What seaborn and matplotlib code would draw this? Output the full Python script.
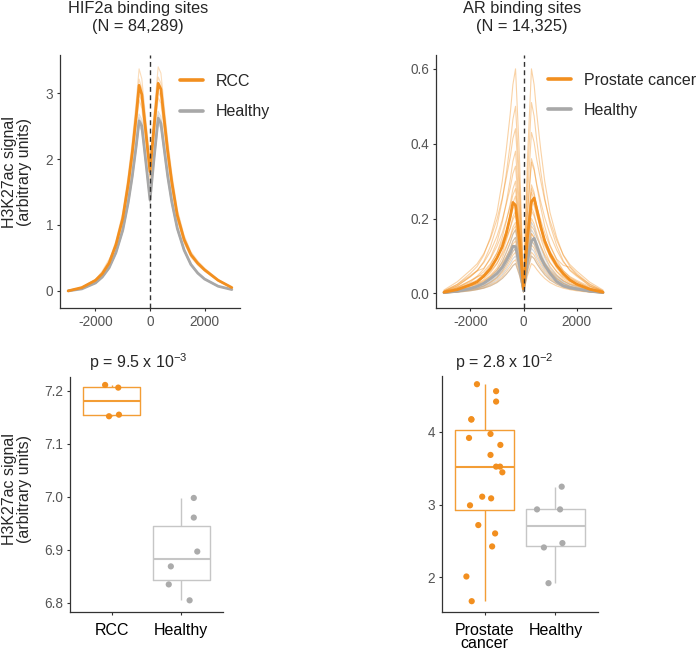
import numpy as np
import pandas as pd
import matplotlib
matplotlib.use("Agg")
import matplotlib.pyplot as plt
import seaborn as sns

# ---- data ----
# distance from binding-site centre (bp), shared by every profile
pos = [-3000, -2500, -2000, -1750, -1500, -1250, -1000, -800, -650, -500, -400, -300, -150, 0,
       150, 300, 400, 500, 650, 800, 1000, 1250, 1500, 1750, 2000, 2500, 3000]

# HIF2a sites: mean profiles
rcc_mean = [0.00, 0.05, 0.16, 0.26, 0.42, 0.70, 1.10, 1.62, 2.10, 2.68, 3.12, 2.98, 2.40, 1.81,
            2.50, 3.15, 3.06, 2.68, 2.12, 1.65, 1.15, 0.78, 0.55, 0.42, 0.32, 0.16, 0.05]
hif_healthy_mean = [0.00, 0.03, 0.12, 0.21, 0.35, 0.58, 0.92, 1.34, 1.74, 2.22, 2.58, 2.50, 1.95, 1.38,
                    2.02, 2.62, 2.54, 2.22, 1.74, 1.35, 0.95, 0.62, 0.40, 0.27, 0.18, 0.07, 0.02]

# HIF2a sites: single samples
rcc_samples = [
    [0.00, 0.054, 0.173, 0.28, 0.454, 0.756, 1.188, 1.75, 2.268, 2.894, 3.37, 3.218, 2.592, 1.95,
     2.70, 3.40, 3.305, 2.894, 2.29, 1.782, 1.242, 0.842, 0.594, 0.454, 0.346, 0.173, 0.054],
    [0.00, 0.052, 0.165, 0.268, 0.433, 0.721, 1.133, 1.669, 2.163, 2.76, 3.214, 3.069, 2.472, 1.864,
     2.575, 3.245, 3.152, 2.76, 2.184, 1.70, 1.185, 0.803, 0.567, 0.433, 0.33, 0.165, 0.052],
    [0.00, 0.048, 0.154, 0.25, 0.403, 0.672, 1.056, 1.555, 2.016, 2.573, 2.995, 2.861, 2.304, 1.738,
     2.40, 3.024, 2.938, 2.573, 2.035, 1.584, 1.104, 0.749, 0.528, 0.403, 0.307, 0.154, 0.048],
    [0.00, 0.05, 0.17, 0.30, 0.48, 0.68, 1.023, 1.507, 1.953, 2.492, 2.902, 2.771, 2.232, 1.683,
     2.325, 2.93, 2.846, 2.492, 1.972, 1.535, 1.07, 0.725, 0.512, 0.39, 0.298, 0.149, 0.047],
]
hif_healthy_samples = [
    [0.00, 0.031, 0.125, 0.218, 0.364, 0.603, 0.957, 1.394, 1.81, 2.309, 2.683, 2.60, 2.028, 1.435,
     2.101, 2.725, 2.642, 2.309, 1.81, 1.404, 0.988, 0.645, 0.416, 0.281, 0.187, 0.073, 0.021],
    [0.00, 0.031, 0.122, 0.214, 0.357, 0.592, 0.938, 1.367, 1.775, 2.264, 2.632, 2.55, 1.989, 1.408,
     2.06, 2.672, 2.591, 2.264, 1.775, 1.377, 0.969, 0.632, 0.408, 0.275, 0.184, 0.071, 0.02],
    [0.00, 0.03, 0.12, 0.21, 0.35, 0.58, 0.92, 1.34, 1.74, 2.22, 2.58, 2.50, 1.95, 1.38,
     2.02, 2.62, 2.54, 2.22, 1.74, 1.35, 0.95, 0.62, 0.40, 0.27, 0.18, 0.07, 0.02],
    [0.00, 0.03, 0.119, 0.208, 0.347, 0.574, 0.911, 1.327, 1.723, 2.198, 2.554, 2.475, 1.931, 1.366,
     2.0, 2.594, 2.515, 2.198, 1.723, 1.337, 0.941, 0.614, 0.396, 0.267, 0.178, 0.069, 0.02],
    [0.00, 0.029, 0.118, 0.206, 0.343, 0.568, 0.902, 1.313, 1.705, 2.176, 2.528, 2.45, 1.911, 1.352,
     1.98, 2.568, 2.489, 2.176, 1.705, 1.323, 0.931, 0.608, 0.392, 0.265, 0.176, 0.069, 0.02],
    [0.00, 0.029, 0.116, 0.204, 0.34, 0.563, 0.892, 1.30, 1.688, 2.153, 2.503, 2.425, 1.892, 1.339,
     1.959, 2.541, 2.464, 2.153, 1.688, 1.31, 0.922, 0.601, 0.388, 0.262, 0.175, 0.068, 0.019],
]

# AR sites: mean profiles
pca_mean = [0.003, 0.010, 0.023, 0.031, 0.046, 0.066, 0.095, 0.125, 0.160, 0.205, 0.243, 0.235, 0.14, 0.012,
            0.15, 0.245, 0.255, 0.225, 0.178, 0.14, 0.106, 0.075, 0.053, 0.036, 0.025, 0.011, 0.003]
ar_healthy_mean = [0.002, 0.006, 0.013, 0.019, 0.027, 0.039, 0.053, 0.07, 0.088, 0.108, 0.126, 0.125, 0.075, 0.008,
                   0.088, 0.14, 0.147, 0.128, 0.096, 0.075, 0.054, 0.032, 0.02, 0.015, 0.012, 0.006, 0.002]

# AR sites: single samples
pca_samples = [
    [0.006, 0.024, 0.054, 0.072, 0.102, 0.15, 0.216, 0.30, 0.384, 0.48, 0.558, 0.60, 0.36, 0.024,
     0.36, 0.60, 0.558, 0.48, 0.384, 0.30, 0.216, 0.15, 0.102, 0.072, 0.054, 0.024, 0.006],
    [0.005, 0.02, 0.045, 0.06, 0.085, 0.125, 0.18, 0.25, 0.32, 0.40, 0.465, 0.50, 0.30, 0.02,
     0.306, 0.51, 0.474, 0.408, 0.326, 0.255, 0.184, 0.128, 0.087, 0.061, 0.046, 0.02, 0.005],
    [0.009, 0.031, 0.062, 0.079, 0.106, 0.145, 0.198, 0.255, 0.308, 0.365, 0.414, 0.44, 0.264, 0.018,
     0.258, 0.43, 0.404, 0.357, 0.301, 0.249, 0.194, 0.142, 0.103, 0.077, 0.06, 0.03, 0.009],
    [0.004, 0.015, 0.034, 0.046, 0.065, 0.095, 0.137, 0.19, 0.243, 0.304, 0.353, 0.38, 0.228, 0.015,
     0.216, 0.36, 0.335, 0.288, 0.23, 0.18, 0.13, 0.09, 0.061, 0.043, 0.032, 0.014, 0.004],
    [0.007, 0.024, 0.048, 0.061, 0.082, 0.112, 0.153, 0.197, 0.238, 0.282, 0.32, 0.34, 0.204, 0.014,
     0.21, 0.35, 0.329, 0.291, 0.245, 0.203, 0.158, 0.116, 0.084, 0.063, 0.049, 0.025, 0.007],
    [0.003, 0.012, 0.027, 0.036, 0.051, 0.075, 0.108, 0.15, 0.192, 0.24, 0.279, 0.30, 0.18, 0.012,
     0.174, 0.29, 0.27, 0.232, 0.186, 0.145, 0.104, 0.073, 0.049, 0.035, 0.026, 0.012, 0.003],
    [0.006, 0.02, 0.045, 0.06, 0.067, 0.092, 0.126, 0.162, 0.196, 0.232, 0.263, 0.28, 0.168, 0.011,
     0.168, 0.28, 0.263, 0.232, 0.196, 0.162, 0.126, 0.092, 0.075, 0.07, 0.05, 0.02, 0.006],
    [0.003, 0.01, 0.023, 0.031, 0.044, 0.065, 0.094, 0.13, 0.166, 0.208, 0.242, 0.26, 0.156, 0.01,
     0.162, 0.27, 0.251, 0.216, 0.173, 0.135, 0.097, 0.068, 0.046, 0.032, 0.024, 0.011, 0.003],
    [0.005, 0.017, 0.034, 0.043, 0.058, 0.079, 0.108, 0.139, 0.168, 0.199, 0.226, 0.24, 0.144, 0.01,
     0.15, 0.25, 0.235, 0.208, 0.175, 0.145, 0.113, 0.083, 0.06, 0.045, 0.035, 0.018, 0.005],
    [0.002, 0.009, 0.02, 0.026, 0.037, 0.055, 0.079, 0.11, 0.141, 0.176, 0.205, 0.22, 0.132, 0.009,
     0.138, 0.23, 0.214, 0.184, 0.147, 0.115, 0.083, 0.058, 0.039, 0.028, 0.021, 0.009, 0.002],
    [0.004, 0.015, 0.03, 0.045, 0.05, 0.069, 0.095, 0.122, 0.147, 0.174, 0.197, 0.21, 0.126, 0.008,
     0.132, 0.22, 0.207, 0.183, 0.154, 0.128, 0.099, 0.073, 0.053, 0.04, 0.031, 0.015, 0.004],
    [0.002, 0.008, 0.017, 0.023, 0.032, 0.048, 0.068, 0.095, 0.122, 0.152, 0.177, 0.19, 0.114, 0.008,
     0.12, 0.20, 0.186, 0.16, 0.128, 0.10, 0.072, 0.05, 0.034, 0.024, 0.018, 0.008, 0.002],
    [0.004, 0.013, 0.025, 0.032, 0.043, 0.059, 0.081, 0.104, 0.126, 0.149, 0.169, 0.18, 0.108, 0.007,
     0.108, 0.18, 0.169, 0.149, 0.126, 0.104, 0.081, 0.059, 0.043, 0.032, 0.025, 0.013, 0.004],
    [0.002, 0.007, 0.015, 0.02, 0.029, 0.043, 0.061, 0.085, 0.109, 0.136, 0.158, 0.17, 0.102, 0.007,
     0.096, 0.16, 0.149, 0.128, 0.102, 0.08, 0.058, 0.04, 0.027, 0.019, 0.014, 0.006, 0.002],
    [0.002, 0.006, 0.014, 0.018, 0.026, 0.038, 0.054, 0.075, 0.096, 0.12, 0.14, 0.15, 0.09, 0.006,
     0.096, 0.16, 0.149, 0.128, 0.102, 0.08, 0.058, 0.04, 0.027, 0.019, 0.014, 0.006, 0.002],
    [0.003, 0.01, 0.02, 0.025, 0.034, 0.046, 0.063, 0.081, 0.098, 0.116, 0.132, 0.14, 0.084, 0.006,
     0.084, 0.14, 0.132, 0.116, 0.098, 0.081, 0.063, 0.046, 0.034, 0.025, 0.02, 0.01, 0.003],
    [0.001, 0.005, 0.011, 0.014, 0.02, 0.03, 0.043, 0.06, 0.077, 0.096, 0.112, 0.12, 0.072, 0.005,
     0.078, 0.13, 0.121, 0.104, 0.083, 0.065, 0.047, 0.033, 0.022, 0.016, 0.012, 0.005, 0.001],
    [0.001, 0.004, 0.01, 0.013, 0.019, 0.028, 0.04, 0.055, 0.07, 0.088, 0.102, 0.11, 0.066, 0.004,
     0.066, 0.11, 0.102, 0.088, 0.07, 0.055, 0.04, 0.028, 0.019, 0.013, 0.01, 0.004, 0.001],
    [0.001, 0.004, 0.008, 0.011, 0.015, 0.023, 0.032, 0.045, 0.058, 0.072, 0.084, 0.09, 0.054, 0.004,
     0.06, 0.10, 0.093, 0.08, 0.064, 0.05, 0.036, 0.025, 0.017, 0.012, 0.009, 0.004, 0.001],
    [0.001, 0.003, 0.007, 0.01, 0.014, 0.02, 0.029, 0.04, 0.051, 0.064, 0.074, 0.08, 0.048, 0.003,
     0.048, 0.08, 0.074, 0.064, 0.051, 0.04, 0.029, 0.02, 0.014, 0.01, 0.007, 0.003, 0.001],
]
ar_healthy_samples = [
    [0.002, 0.007, 0.015, 0.02, 0.029, 0.043, 0.061, 0.085, 0.109, 0.136, 0.158, 0.17, 0.102, 0.007,
     0.114, 0.19, 0.177, 0.152, 0.122, 0.095, 0.068, 0.048, 0.032, 0.023, 0.017, 0.008, 0.002],
    [0.002, 0.006, 0.014, 0.018, 0.026, 0.038, 0.054, 0.075, 0.096, 0.12, 0.14, 0.15, 0.09, 0.006,
     0.102, 0.17, 0.158, 0.136, 0.109, 0.085, 0.061, 0.043, 0.029, 0.02, 0.015, 0.007, 0.002],
    [0.001, 0.005, 0.012, 0.016, 0.022, 0.033, 0.047, 0.065, 0.083, 0.104, 0.121, 0.13, 0.078, 0.005,
     0.09, 0.15, 0.14, 0.12, 0.096, 0.075, 0.054, 0.038, 0.026, 0.018, 0.014, 0.006, 0.002],
    [0.001, 0.005, 0.011, 0.014, 0.02, 0.03, 0.043, 0.06, 0.077, 0.096, 0.112, 0.12, 0.072, 0.005,
     0.084, 0.14, 0.13, 0.112, 0.09, 0.07, 0.05, 0.035, 0.024, 0.017, 0.013, 0.006, 0.001],
    [0.001, 0.004, 0.009, 0.012, 0.017, 0.025, 0.036, 0.05, 0.064, 0.08, 0.093, 0.10, 0.06, 0.004,
     0.072, 0.12, 0.112, 0.096, 0.077, 0.06, 0.043, 0.03, 0.02, 0.014, 0.011, 0.005, 0.001],
    [0.001, 0.003, 0.007, 0.01, 0.014, 0.02, 0.029, 0.04, 0.051, 0.064, 0.074, 0.08, 0.048, 0.003,
     0.06, 0.10, 0.093, 0.08, 0.064, 0.05, 0.036, 0.025, 0.017, 0.012, 0.009, 0.004, 0.001],
]

# summed signal per sample (box plots)
rcc_signal = [7.211, 7.206, 7.152, 7.155]
hif_healthy_signal = [6.998, 6.961, 6.897, 6.869, 6.835, 6.805]
pca_signal = [4.657, 4.561, 4.418, 4.175, 4.170, 3.917, 3.972, 3.821, 3.683, 3.522,
              3.522, 3.444, 3.108, 3.085, 2.989, 2.717, 2.602, 2.423, 2.009, 1.669]
ar_healthy_signal = [3.246, 2.933, 2.933, 2.469, 2.409, 1.917]

# horizontal jitter of the dots, as drawn
rcc_jit = [-0.095, 0.094, -0.039, 0.104]
hif_healthy_jit = [0.18, 0.18, 0.23, -0.15, -0.18, 0.12]
pca_jit = [-0.107, 0.163, 0.163, -0.186, -0.186, -0.219, 0.084, 0.223, 0.084, 0.163,
           0.219, 0.251, -0.033, 0.093, -0.205, -0.088, 0.149, 0.107, -0.256, -0.181]
ar_healthy_jit = [0.088, -0.26, 0.065, 0.098, -0.163, -0.098]

ORANGE = "#F28F1F"
GREY = "#A8A8A8"
BOX_ORANGE = "#F39D35"
BOX_GREY = "#C6C6C6"
DOT_GREY = "#ABABAB"
TICK_GREY = "#555555"
AXIS_COL = "#333333"

sns.set_theme(style="ticks")
plt.rcParams["font.family"] = ["Liberation Sans", "DejaVu Sans"]
plt.rcParams["mathtext.default"] = "regular"
plt.rcParams["axes.unicode_minus"] = False


def long_profiles(samples, group):
    rows = []
    for i, s in enumerate(samples):
        for x, v in zip(pos, s):
            rows.append((group, f"{group}_{i}", x, v))
    return pd.DataFrame(rows, columns=["group", "sample", "pos", "signal"])


def style_axes(ax):
    sns.despine(ax=ax)
    for s in ["left", "bottom"]:
        ax.spines[s].set_color(AXIS_COL)
        ax.spines[s].set_linewidth(0.9)
    ax.tick_params(length=2.5, width=0.8, color=AXIS_COL, labelcolor=TICK_GREY,
                   labelsize=9.8, pad=2.5)
    ax.set_xlabel("")
    ax.set_ylabel("")


def profile_panel(ax, case_samples, ctrl_samples, case_mean, ctrl_mean, case_name,
                  alpha_case, alpha_ctrl, legend_xy):
    sns.lineplot(data=long_profiles(case_samples, case_name), x="pos", y="signal",
                 units="sample", estimator=None, color=ORANGE, lw=0.8,
                 alpha=alpha_case, legend=False, ax=ax)
    sns.lineplot(data=long_profiles(ctrl_samples, "Healthy"), x="pos", y="signal",
                 units="sample", estimator=None, color=GREY, lw=0.8,
                 alpha=alpha_ctrl, legend=False, ax=ax)
    sns.lineplot(x=pos, y=ctrl_mean, color=GREY, lw=2.0, label="Healthy", ax=ax)
    sns.lineplot(x=pos, y=case_mean, color=ORANGE, lw=2.0, label=case_name, ax=ax)
    for ln in ax.get_lines():
        ln.set_solid_joinstyle("round")
    ax.axvline(0, color=AXIS_COL, lw=1.0, ls=(0, (3.5, 2.5)), zorder=5)
    handles, labels = ax.get_legend_handles_labels()
    leg = ax.legend(handles[::-1], labels[::-1], frameon=False, loc="upper left",
                    bbox_to_anchor=legend_xy, borderaxespad=0, borderpad=0,
                    handlelength=1.45, handletextpad=0.8, labelspacing=0.95,
                    fontsize=11.5)
    for h in leg.get_lines():
        h.set_linewidth(2.6)
    ax.set_xlim(-3300, 3300)
    ax.set_xticks([-2000, 0, 2000])
    style_axes(ax)


def box_panel(ax, case_vals, ctrl_vals, case_jit, ctrl_jit, case_name):
    df = pd.DataFrame({
        "group": [case_name] * len(case_vals) + ["Healthy"] * len(ctrl_vals),
        "value": case_vals + ctrl_vals,
    })
    sns.boxplot(data=df, x="group", y="value", hue="group",
                order=[case_name, "Healthy"],
                palette={case_name: BOX_ORANGE, "Healthy": BOX_GREY},
                fill=False, width=0.82, linewidth=1.0, showfliers=False,
                showcaps=False, medianprops={"linewidth": 1.5},
                legend=False, ax=ax)
    sns.scatterplot(x=np.array(case_jit), y=case_vals, color=ORANGE, s=20,
                    edgecolor="none", legend=False, ax=ax, zorder=4)
    sns.scatterplot(x=1 + np.array(ctrl_jit), y=ctrl_vals, color=DOT_GREY, s=20,
                    edgecolor="none", legend=False, ax=ax, zorder=4)
    ax.set_xlim(-0.6, 1.6)
    style_axes(ax)
    ax.tick_params(axis="x", labelsize=11.5, labelcolor="black", pad=5.5)


fig = plt.figure(figsize=(6.99, 6.51), dpi=100)
W, H = 699, 651


def add_axes(l, t, r, b):
    return fig.add_axes([l / W, 1 - b / H, (r - l) / W, (b - t) / H])


ax_tl = add_axes(60, 55, 240, 308)
ax_tr = add_axes(436, 55, 611, 308)
ax_bl = add_axes(70, 377, 223, 612)
ax_br = add_axes(442, 376, 598, 612)

profile_panel(ax_tl, rcc_samples, hif_healthy_samples, rcc_mean, hif_healthy_mean,
              "RCC", 0.3, 0.35, (0.667, 0.925))
ax_tl.set_ylim(-0.26, 3.58)
ax_tl.set_yticks([0, 1, 2, 3])

profile_panel(ax_tr, pca_samples, ar_healthy_samples, pca_mean, ar_healthy_mean,
              "Prostate cancer", 0.4, 0.45, (0.638, 0.93))
ax_tr.set_ylim(-0.039, 0.637)
ax_tr.set_yticks([0.0, 0.2, 0.4, 0.6])
ax_tr.set_yticklabels(["0.0", "0.2", "0.4", "0.6"])

box_panel(ax_bl, rcc_signal, hif_healthy_signal, rcc_jit, hif_healthy_jit, "RCC")
ax_bl.set_ylim(6.783, 7.226)
ax_bl.set_yticks([6.8, 6.9, 7.0, 7.1, 7.2])
ax_bl.set_yticklabels(["6.8", "6.9", "7.0", "7.1", "7.2"])

box_panel(ax_br, pca_signal, ar_healthy_signal, pca_jit, ar_healthy_jit,
          "Prostate\ncancer")
ax_br.set_ylim(1.52, 4.77)
ax_br.set_yticks([2, 3, 4])
for t in ax_br.get_xticklabels():
    t.set_linespacing(0.85)

# titles
fig.text(138 / W, 1 - 0.5 / H, "HIF2a binding sites\n(N = 84,289)", ha="center",
         va="top", fontsize=11.8, linespacing=1.25)
fig.text(522 / W, 1 - 0.5 / H, "AR binding sites\n(N = 14,325)", ha="center",
         va="top", fontsize=11.8, linespacing=1.25)

# p-values
fig.text(138 / W, 1 - 368 / H, r"p = 9.5 x 10$^{-3}$", ha="center",
         va="baseline", fontsize=11.5)
fig.text(504 / W, 1 - 368 / H, r"p = 2.8 x 10$^{-2}$", ha="center",
         va="baseline", fontsize=11.5)

# y labels
fig.text(17 / W, 1 - 172 / H, "H3K27ac signal\n(arbitrary units)", rotation=90,
         ha="center", va="center", fontsize=11.5, linespacing=1.05)
fig.text(17 / W, 1 - 489 / H, "H3K27ac signal\n(arbitrary units)", rotation=90,
         ha="center", va="center", fontsize=11.5, linespacing=1.05)

fig.savefig("out.png", dpi=100)
